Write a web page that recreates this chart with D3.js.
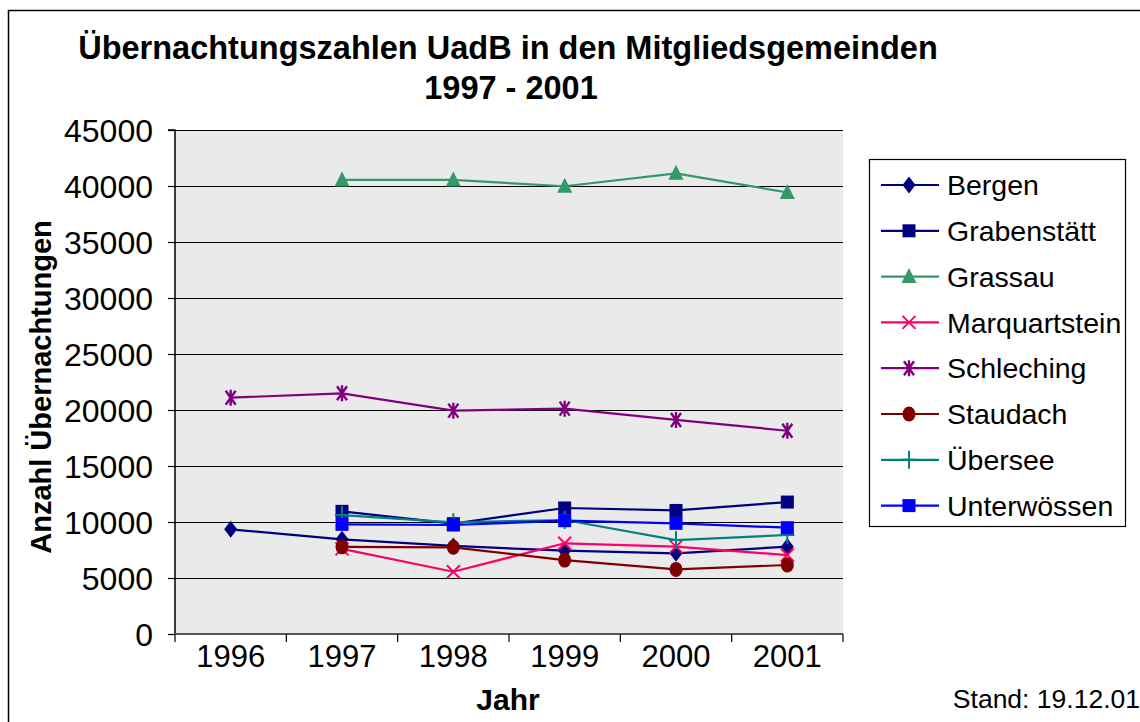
<!DOCTYPE html>
<html>
<head>
<meta charset="utf-8">
<script src="https://cdn.jsdelivr.net/npm/d3@7"></script>
<style>
  body { margin: 0; background: #fff; }
  svg { display: block; font-family: "Liberation Sans", Arial, sans-serif; }
</style>
</head>
<body>
<svg id="chart"></svg>
<script>
// Daten
const years = ["1996", "1997", "1998", "1999", "2000", "2001"];
const yTicks = [0, 5000, 10000, 15000, 20000, 25000, 30000, 35000, 40000, 45000];

const bergen       = [9350, 8450, 7860, 7440, 7200, 7800];
const grabenstaett = [null, 10950, 9850, 11250, 11030, 11780];
const grassau      = [null, 40540, 40540, 39980, 41130, 39420];
const marquartstein = [null, 7600, 5560, 8100, 7800, 7050];
const schleching   = [21100, 21490, 19940, 20120, 19110, 18150];
const staudach     = [null, 7780, 7740, 6600, 5770, 6160];
const uebersee     = [null, 10620, 9970, 10180, 8390, 8840];
const unterwoessen = [null, 9790, 9730, 10120, 9880, 9490];

const seriesNames = ["Bergen", "Grabenstätt", "Grassau", "Marquartstein", "Schleching", "Staudach", "Übersee", "Unterwössen"];
const seriesValues = [bergen, grabenstaett, grassau, marquartstein, schleching, staudach, uebersee, unterwoessen];
const seriesColors = ["#000080", "#000080", "#339966", "#FF0066", "#800080", "#800000", "#008080", "#0000FF"];
const seriesMarkers = ["diamond", "square", "triangle", "x", "star", "circle", "plus", "square"];

const width = 1140, height = 722;
const svg = d3.select("#chart").attr("width", width).attr("height", height);

// Rahmen
svg.append("path")
    .attr("d", "M8.5,722 V10.5 H1140")
    .attr("fill", "none")
    .attr("stroke", "#000")
    .attr("stroke-width", 1.5);

const plot = { left: 175, right: 843, top: 130, bottom: 634 };

const x = d3.scaleBand().domain(years).range([plot.left, plot.right]);
const y = d3.scaleLinear().domain([0, 45000]).range([plot.bottom, plot.top]);
const cx = d => x(d) + x.bandwidth() / 2;

// Hintergrund
svg.append("rect")
    .attr("x", plot.left).attr("y", plot.top)
    .attr("width", plot.right - plot.left).attr("height", plot.bottom - plot.top)
    .attr("fill", "#EAEAEA");

// Gitternetz
svg.append("g").selectAll("line")
    .data(yTicks.filter(t => t > 0))
    .enter().append("line")
    .attr("x1", plot.left).attr("x2", plot.right)
    .attr("y1", d => Math.round(y(d)) + 0.5).attr("y2", d => Math.round(y(d)) + 0.5)
    .attr("stroke", "#000").attr("stroke-width", 1.2);

// Y-Achse
const yAxis = svg.append("g")
    .attr("transform", `translate(${plot.left},0)`)
    .call(d3.axisLeft(y).tickValues(yTicks).tickSize(7).tickPadding(15).tickFormat(d3.format("d")));
yAxis.select(".domain").attr("stroke", "#000").attr("stroke-width", 1.5).attr("d", `M-7,${plot.top}H0V${plot.bottom}`);
yAxis.selectAll(".tick line").attr("stroke", "#000").attr("stroke-width", 1.2);
yAxis.selectAll(".tick text")
    .attr("font-size", 32).attr("fill", "#000")
    .attr("font-family", "Liberation Sans, Arial, sans-serif")
    .attr("dy", "0.36em");

// X-Achse
const xAxis = svg.append("g")
    .attr("transform", `translate(0,${plot.bottom})`)
    .call(d3.axisBottom(x).tickSize(0).tickPadding(11));
xAxis.select(".domain").attr("stroke", "#555").attr("stroke-width", 2).attr("d", `M${plot.left},0H${plot.right}`);
xAxis.selectAll(".tick text")
    .attr("font-size", 31).attr("fill", "#000")
    .attr("font-family", "Liberation Sans, Arial, sans-serif")
    .attr("dy", "0.71em");
xAxis.selectAll(".boundary")
    .data(years.map(d => x(d)).concat([plot.right]))
    .enter().append("line")
    .attr("x1", d => d).attr("x2", d => d)
    .attr("y1", 0).attr("y2", 8)
    .attr("stroke", "#000").attr("stroke-width", 1.2);

// Marker-Zeichnung
function drawMarker(g, type, color, px, py) {
    if (type === "diamond") {
        g.append("path").attr("d", "M0,-8.5 L6.5,0 L0,8.5 L-6.5,0Z")
            .attr("transform", `translate(${px},${py})`).attr("fill", color);
    } else if (type === "square") {
        g.append("rect").attr("x", px - 6.5).attr("y", py - 6.5).attr("width", 13).attr("height", 13).attr("fill", color);
    } else if (type === "triangle") {
        g.append("path").attr("d", "M0,-8.5 L7.5,6.5 L-7.5,6.5Z")
            .attr("transform", `translate(${px},${py})`).attr("fill", color);
    } else if (type === "circle") {
        g.append("ellipse").attr("cx", px).attr("cy", py).attr("rx", 6.5).attr("ry", 7.5).attr("fill", color);
    } else if (type === "x") {
        g.append("path").attr("d", "M-6.5,-6.5 L6.5,6.5 M-6.5,6.5 L6.5,-6.5")
            .attr("transform", `translate(${px},${py})`).attr("stroke", color).attr("stroke-width", 2).attr("fill", "none");
    } else if (type === "star") {
        g.append("path").attr("d", "M-5,-7 L5,7 M-5,7 L5,-7 M0,-8 V8")
            .attr("transform", `translate(${px},${py})`).attr("stroke", color).attr("stroke-width", 2.4).attr("fill", "none");
    } else if (type === "plus") {
        g.append("path").attr("d", "M-7,0 H7 M0,-9 V9")
            .attr("transform", `translate(${px},${py})`).attr("stroke", color).attr("stroke-width", 2).attr("fill", "none");
    }
}

// Linien
const line = d3.line()
    .defined(d => d.v !== null)
    .x(d => cx(d.year))
    .y(d => y(d.v));

seriesValues.forEach((vals, i) => {
    const pts = years.map((yr, j) => ({ year: yr, v: vals[j] }));
    const g = svg.append("g");
    g.append("path")
        .attr("d", line(pts))
        .attr("fill", "none")
        .attr("stroke", seriesColors[i])
        .attr("stroke-width", 2.2);
    pts.filter(p => p.v !== null).forEach(p => drawMarker(g, seriesMarkers[i], seriesColors[i], cx(p.year), y(p.v)));
});

// Legende
const legend = svg.append("g");
legend.append("rect")
    .attr("x", 869.5).attr("y", 159.5).attr("width", 256).attr("height", 367)
    .attr("fill", "#fff").attr("stroke", "#000").attr("stroke-width", 1.2);
seriesNames.forEach((name, i) => {
    const ly = 185 + i * 45.8;
    legend.append("line")
        .attr("x1", 881).attr("x2", 939).attr("y1", ly).attr("y2", ly)
        .attr("stroke", seriesColors[i]).attr("stroke-width", 2.2);
    drawMarker(legend, seriesMarkers[i], seriesColors[i], 909, ly);
    legend.append("text")
        .attr("x", 947).attr("y", ly).attr("dy", "0.36em")
        .attr("font-size", 28.5).attr("fill", "#000")
        .text(name);
});

// Titel
svg.append("text")
    .attr("x", 508).attr("y", 59)
    .attr("text-anchor", "middle")
    .attr("font-size", 32.5).attr("font-weight", "bold")
    .text("Übernachtungszahlen UadB in den Mitgliedsgemeinden");
svg.append("text")
    .attr("x", 511).attr("y", 99)
    .attr("text-anchor", "middle")
    .attr("font-size", 32.5).attr("font-weight", "bold")
    .text("1997 - 2001");

// Achsentitel
svg.append("text")
    .attr("transform", "translate(51,387) rotate(-90)")
    .attr("text-anchor", "middle")
    .attr("font-size", 29).attr("font-weight", "bold")
    .text("Anzahl Übernachtungen");
svg.append("text")
    .attr("x", 508).attr("y", 710)
    .attr("text-anchor", "middle")
    .attr("font-size", 30).attr("font-weight", "bold")
    .text("Jahr");
svg.append("text")
    .attr("x", 1140).attr("y", 708)
    .attr("text-anchor", "end")
    .attr("font-size", 26.5)
    .text("Stand: 19.12.01");
</script>
</body>
</html>
